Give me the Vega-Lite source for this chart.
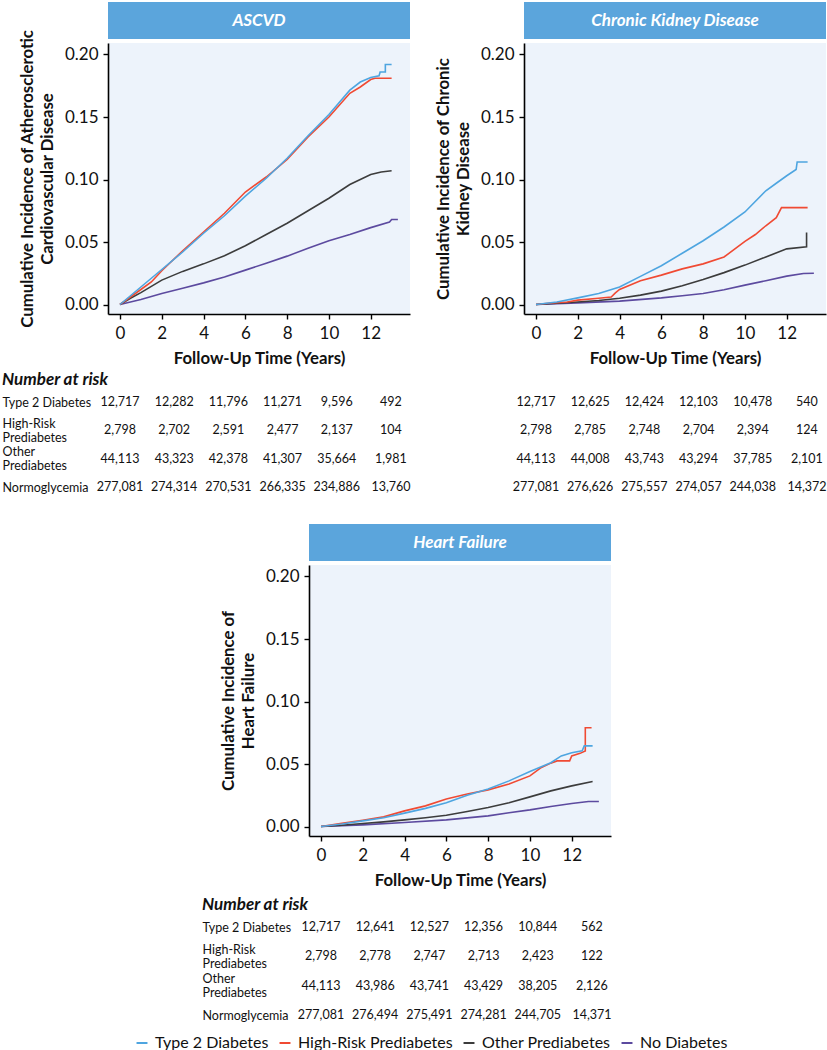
{
  "$schema": "https://vega.github.io/schema/vega-lite/v6.json",
  "background": "white",
  "padding": {"left": 2, "top": 2, "right": 0, "bottom": 0},
  "config": {
    "font": "Lato",
    "view": {"stroke": null},
    "axis": {"domainColor": "#000000", "domainWidth": 1.6, "tickColor": "#000000", "tickWidth": 1.4, "tickSize": 5, "labelFontSize": 17, "labelColor": "#111111", "labelPadding": 4, "titleFontSize": 16.8, "titleFontWeight": "bold", "titleColor": "#111111", "grid": false, "labelFont": "Lato", "titleFont": "Lato"},
    "text": {"font": "Lato"},
    "title": {"font": "Lato"}
  },
  "datasets": {
    "curves": [
      {"outcome":"ASCVD","group":"No Diabetes","year":0,"incidence":0},{"outcome":"ASCVD","group":"No Diabetes","year":1,"incidence":0.004},{"outcome":"ASCVD","group":"No Diabetes","year":2,"incidence":0.0088},{"outcome":"ASCVD","group":"No Diabetes","year":3,"incidence":0.013},{"outcome":"ASCVD","group":"No Diabetes","year":4,"incidence":0.0173},{"outcome":"ASCVD","group":"No Diabetes","year":5,"incidence":0.022},{"outcome":"ASCVD","group":"No Diabetes","year":6,"incidence":0.0275},{"outcome":"ASCVD","group":"No Diabetes","year":7,"incidence":0.033},{"outcome":"ASCVD","group":"No Diabetes","year":8,"incidence":0.0387},{"outcome":"ASCVD","group":"No Diabetes","year":9,"incidence":0.045},{"outcome":"ASCVD","group":"No Diabetes","year":10,"incidence":0.051},{"outcome":"ASCVD","group":"No Diabetes","year":11,"incidence":0.056},{"outcome":"ASCVD","group":"No Diabetes","year":12,"incidence":0.0615},{"outcome":"ASCVD","group":"No Diabetes","year":12.9,"incidence":0.066},{"outcome":"ASCVD","group":"No Diabetes","year":13,"incidence":0.068},{"outcome":"ASCVD","group":"No Diabetes","year":13.3,"incidence":0.068},
      {"outcome":"ASCVD","group":"Other Prediabetes","year":0,"incidence":0},{"outcome":"ASCVD","group":"Other Prediabetes","year":0.5,"incidence":0.005},{"outcome":"ASCVD","group":"Other Prediabetes","year":1,"incidence":0.0095},{"outcome":"ASCVD","group":"Other Prediabetes","year":2,"incidence":0.0195},{"outcome":"ASCVD","group":"Other Prediabetes","year":3,"incidence":0.0265},{"outcome":"ASCVD","group":"Other Prediabetes","year":4,"incidence":0.0325},{"outcome":"ASCVD","group":"Other Prediabetes","year":5,"incidence":0.039},{"outcome":"ASCVD","group":"Other Prediabetes","year":6,"incidence":0.047},{"outcome":"ASCVD","group":"Other Prediabetes","year":7,"incidence":0.056},{"outcome":"ASCVD","group":"Other Prediabetes","year":8,"incidence":0.065},{"outcome":"ASCVD","group":"Other Prediabetes","year":9,"incidence":0.075},{"outcome":"ASCVD","group":"Other Prediabetes","year":10,"incidence":0.085},{"outcome":"ASCVD","group":"Other Prediabetes","year":11,"incidence":0.096},{"outcome":"ASCVD","group":"Other Prediabetes","year":12,"incidence":0.104},{"outcome":"ASCVD","group":"Other Prediabetes","year":12.5,"incidence":0.106},{"outcome":"ASCVD","group":"Other Prediabetes","year":13,"incidence":0.107},
      {"outcome":"ASCVD","group":"High-Risk Prediabetes","year":0,"incidence":0},{"outcome":"ASCVD","group":"High-Risk Prediabetes","year":0.5,"incidence":0.006},{"outcome":"ASCVD","group":"High-Risk Prediabetes","year":1,"incidence":0.012},{"outcome":"ASCVD","group":"High-Risk Prediabetes","year":1.5,"incidence":0.018},{"outcome":"ASCVD","group":"High-Risk Prediabetes","year":2,"incidence":0.027},{"outcome":"ASCVD","group":"High-Risk Prediabetes","year":3,"incidence":0.043},{"outcome":"ASCVD","group":"High-Risk Prediabetes","year":4,"incidence":0.058},{"outcome":"ASCVD","group":"High-Risk Prediabetes","year":5,"incidence":0.073},{"outcome":"ASCVD","group":"High-Risk Prediabetes","year":6,"incidence":0.09},{"outcome":"ASCVD","group":"High-Risk Prediabetes","year":7,"incidence":0.102},{"outcome":"ASCVD","group":"High-Risk Prediabetes","year":8,"incidence":0.116},{"outcome":"ASCVD","group":"High-Risk Prediabetes","year":9,"incidence":0.134},{"outcome":"ASCVD","group":"High-Risk Prediabetes","year":10,"incidence":0.15},{"outcome":"ASCVD","group":"High-Risk Prediabetes","year":11,"incidence":0.169},{"outcome":"ASCVD","group":"High-Risk Prediabetes","year":11.5,"incidence":0.174},{"outcome":"ASCVD","group":"High-Risk Prediabetes","year":12,"incidence":0.18},{"outcome":"ASCVD","group":"High-Risk Prediabetes","year":12.2,"incidence":0.181},{"outcome":"ASCVD","group":"High-Risk Prediabetes","year":13,"incidence":0.181},
      {"outcome":"ASCVD","group":"Type 2 Diabetes","year":0,"incidence":0},{"outcome":"ASCVD","group":"Type 2 Diabetes","year":0.5,"incidence":0.007},{"outcome":"ASCVD","group":"Type 2 Diabetes","year":1,"incidence":0.014},{"outcome":"ASCVD","group":"Type 2 Diabetes","year":2,"incidence":0.028},{"outcome":"ASCVD","group":"Type 2 Diabetes","year":3,"incidence":0.042},{"outcome":"ASCVD","group":"Type 2 Diabetes","year":4,"incidence":0.057},{"outcome":"ASCVD","group":"Type 2 Diabetes","year":5,"incidence":0.071},{"outcome":"ASCVD","group":"Type 2 Diabetes","year":6,"incidence":0.0867},{"outcome":"ASCVD","group":"Type 2 Diabetes","year":7,"incidence":0.101},{"outcome":"ASCVD","group":"Type 2 Diabetes","year":8,"incidence":0.117},{"outcome":"ASCVD","group":"Type 2 Diabetes","year":9,"incidence":0.135},{"outcome":"ASCVD","group":"Type 2 Diabetes","year":10,"incidence":0.152},{"outcome":"ASCVD","group":"Type 2 Diabetes","year":11,"incidence":0.1715},{"outcome":"ASCVD","group":"Type 2 Diabetes","year":11.5,"incidence":0.178},{"outcome":"ASCVD","group":"Type 2 Diabetes","year":12,"incidence":0.1816},{"outcome":"ASCVD","group":"Type 2 Diabetes","year":12.4,"incidence":0.183},{"outcome":"ASCVD","group":"Type 2 Diabetes","year":12.45,"incidence":0.186},{"outcome":"ASCVD","group":"Type 2 Diabetes","year":12.7,"incidence":0.186},{"outcome":"ASCVD","group":"Type 2 Diabetes","year":12.7,"incidence":0.192},{"outcome":"ASCVD","group":"Type 2 Diabetes","year":13,"incidence":0.192},
      {"outcome":"CKD","group":"No Diabetes","year":0,"incidence":0},{"outcome":"CKD","group":"No Diabetes","year":2,"incidence":0.0013},{"outcome":"CKD","group":"No Diabetes","year":4,"incidence":0.0027},{"outcome":"CKD","group":"No Diabetes","year":6,"incidence":0.0053},{"outcome":"CKD","group":"No Diabetes","year":7,"incidence":0.007},{"outcome":"CKD","group":"No Diabetes","year":8,"incidence":0.0088},{"outcome":"CKD","group":"No Diabetes","year":9,"incidence":0.0118},{"outcome":"CKD","group":"No Diabetes","year":10,"incidence":0.0155},{"outcome":"CKD","group":"No Diabetes","year":11,"incidence":0.019},{"outcome":"CKD","group":"No Diabetes","year":12,"incidence":0.0227},{"outcome":"CKD","group":"No Diabetes","year":12.8,"incidence":0.0248},{"outcome":"CKD","group":"No Diabetes","year":13.3,"incidence":0.025},
      {"outcome":"CKD","group":"Other Prediabetes","year":0,"incidence":0},{"outcome":"CKD","group":"Other Prediabetes","year":1,"incidence":0.001},{"outcome":"CKD","group":"Other Prediabetes","year":2,"incidence":0.002},{"outcome":"CKD","group":"Other Prediabetes","year":3,"incidence":0.0032},{"outcome":"CKD","group":"Other Prediabetes","year":4,"incidence":0.005},{"outcome":"CKD","group":"Other Prediabetes","year":5,"incidence":0.0075},{"outcome":"CKD","group":"Other Prediabetes","year":6,"incidence":0.0107},{"outcome":"CKD","group":"Other Prediabetes","year":7,"incidence":0.015},{"outcome":"CKD","group":"Other Prediabetes","year":8,"incidence":0.02},{"outcome":"CKD","group":"Other Prediabetes","year":9,"incidence":0.0255},{"outcome":"CKD","group":"Other Prediabetes","year":10,"incidence":0.0315},{"outcome":"CKD","group":"Other Prediabetes","year":11,"incidence":0.038},{"outcome":"CKD","group":"Other Prediabetes","year":12,"incidence":0.0445},{"outcome":"CKD","group":"Other Prediabetes","year":12.95,"incidence":0.0462},{"outcome":"CKD","group":"Other Prediabetes","year":12.95,"incidence":0.0576},
      {"outcome":"CKD","group":"High-Risk Prediabetes","year":0,"incidence":0},{"outcome":"CKD","group":"High-Risk Prediabetes","year":0.6,"incidence":0.001},{"outcome":"CKD","group":"High-Risk Prediabetes","year":1.5,"incidence":0.002},{"outcome":"CKD","group":"High-Risk Prediabetes","year":2,"incidence":0.0035},{"outcome":"CKD","group":"High-Risk Prediabetes","year":3,"incidence":0.005},{"outcome":"CKD","group":"High-Risk Prediabetes","year":3.6,"incidence":0.006},{"outcome":"CKD","group":"High-Risk Prediabetes","year":3.8,"incidence":0.0093},{"outcome":"CKD","group":"High-Risk Prediabetes","year":4,"incidence":0.012},{"outcome":"CKD","group":"High-Risk Prediabetes","year":5,"incidence":0.019},{"outcome":"CKD","group":"High-Risk Prediabetes","year":6,"incidence":0.0235},{"outcome":"CKD","group":"High-Risk Prediabetes","year":7,"incidence":0.0285},{"outcome":"CKD","group":"High-Risk Prediabetes","year":8,"incidence":0.0325},{"outcome":"CKD","group":"High-Risk Prediabetes","year":9,"incidence":0.038},{"outcome":"CKD","group":"High-Risk Prediabetes","year":10,"incidence":0.0505},{"outcome":"CKD","group":"High-Risk Prediabetes","year":10.5,"incidence":0.056},{"outcome":"CKD","group":"High-Risk Prediabetes","year":11,"incidence":0.063},{"outcome":"CKD","group":"High-Risk Prediabetes","year":11.5,"incidence":0.0695},{"outcome":"CKD","group":"High-Risk Prediabetes","year":11.75,"incidence":0.0775},{"outcome":"CKD","group":"High-Risk Prediabetes","year":13,"incidence":0.0775},
      {"outcome":"CKD","group":"Type 2 Diabetes","year":0,"incidence":0},{"outcome":"CKD","group":"Type 2 Diabetes","year":1,"incidence":0.002},{"outcome":"CKD","group":"Type 2 Diabetes","year":2,"incidence":0.0053},{"outcome":"CKD","group":"Type 2 Diabetes","year":3,"incidence":0.0088},{"outcome":"CKD","group":"Type 2 Diabetes","year":4,"incidence":0.014},{"outcome":"CKD","group":"Type 2 Diabetes","year":5,"incidence":0.0225},{"outcome":"CKD","group":"Type 2 Diabetes","year":6,"incidence":0.031},{"outcome":"CKD","group":"Type 2 Diabetes","year":7,"incidence":0.041},{"outcome":"CKD","group":"Type 2 Diabetes","year":8,"incidence":0.051},{"outcome":"CKD","group":"Type 2 Diabetes","year":9,"incidence":0.062},{"outcome":"CKD","group":"Type 2 Diabetes","year":10,"incidence":0.074},{"outcome":"CKD","group":"Type 2 Diabetes","year":11,"incidence":0.091},{"outcome":"CKD","group":"Type 2 Diabetes","year":11.5,"incidence":0.097},{"outcome":"CKD","group":"Type 2 Diabetes","year":12,"incidence":0.103},{"outcome":"CKD","group":"Type 2 Diabetes","year":12.45,"incidence":0.108},{"outcome":"CKD","group":"Type 2 Diabetes","year":12.5,"incidence":0.114},{"outcome":"CKD","group":"Type 2 Diabetes","year":13,"incidence":0.114},
      {"outcome":"HF","group":"No Diabetes","year":0,"incidence":0},{"outcome":"HF","group":"No Diabetes","year":2,"incidence":0.0013},{"outcome":"HF","group":"No Diabetes","year":4,"incidence":0.0032},{"outcome":"HF","group":"No Diabetes","year":6,"incidence":0.0053},{"outcome":"HF","group":"No Diabetes","year":8,"incidence":0.0085},{"outcome":"HF","group":"No Diabetes","year":9,"incidence":0.011},{"outcome":"HF","group":"No Diabetes","year":10,"incidence":0.0133},{"outcome":"HF","group":"No Diabetes","year":11,"incidence":0.016},{"outcome":"HF","group":"No Diabetes","year":12,"incidence":0.0184},{"outcome":"HF","group":"No Diabetes","year":12.8,"incidence":0.02},{"outcome":"HF","group":"No Diabetes","year":13.3,"incidence":0.02},
      {"outcome":"HF","group":"Other Prediabetes","year":0,"incidence":0},{"outcome":"HF","group":"Other Prediabetes","year":1,"incidence":0.001},{"outcome":"HF","group":"Other Prediabetes","year":2,"incidence":0.0024},{"outcome":"HF","group":"Other Prediabetes","year":3,"incidence":0.0037},{"outcome":"HF","group":"Other Prediabetes","year":4,"incidence":0.0053},{"outcome":"HF","group":"Other Prediabetes","year":5,"incidence":0.007},{"outcome":"HF","group":"Other Prediabetes","year":6,"incidence":0.009},{"outcome":"HF","group":"Other Prediabetes","year":7,"incidence":0.012},{"outcome":"HF","group":"Other Prediabetes","year":8,"incidence":0.0152},{"outcome":"HF","group":"Other Prediabetes","year":9,"incidence":0.019},{"outcome":"HF","group":"Other Prediabetes","year":10,"incidence":0.0237},{"outcome":"HF","group":"Other Prediabetes","year":11,"incidence":0.0285},{"outcome":"HF","group":"Other Prediabetes","year":12,"incidence":0.0325},{"outcome":"HF","group":"Other Prediabetes","year":13,"incidence":0.036},
      {"outcome":"HF","group":"High-Risk Prediabetes","year":0,"incidence":0},{"outcome":"HF","group":"High-Risk Prediabetes","year":1,"incidence":0.0025},{"outcome":"HF","group":"High-Risk Prediabetes","year":2,"incidence":0.005},{"outcome":"HF","group":"High-Risk Prediabetes","year":3,"incidence":0.0077},{"outcome":"HF","group":"High-Risk Prediabetes","year":4,"incidence":0.0125},{"outcome":"HF","group":"High-Risk Prediabetes","year":5,"incidence":0.0165},{"outcome":"HF","group":"High-Risk Prediabetes","year":6,"incidence":0.022},{"outcome":"HF","group":"High-Risk Prediabetes","year":7,"incidence":0.026},{"outcome":"HF","group":"High-Risk Prediabetes","year":8,"incidence":0.0293},{"outcome":"HF","group":"High-Risk Prediabetes","year":9,"incidence":0.034},{"outcome":"HF","group":"High-Risk Prediabetes","year":10,"incidence":0.0405},{"outcome":"HF","group":"High-Risk Prediabetes","year":10.5,"incidence":0.0467},{"outcome":"HF","group":"High-Risk Prediabetes","year":11,"incidence":0.0507},{"outcome":"HF","group":"High-Risk Prediabetes","year":11.3,"incidence":0.0525},{"outcome":"HF","group":"High-Risk Prediabetes","year":11.9,"incidence":0.0525},{"outcome":"HF","group":"High-Risk Prediabetes","year":12,"incidence":0.0565},{"outcome":"HF","group":"High-Risk Prediabetes","year":12.4,"incidence":0.0585},{"outcome":"HF","group":"High-Risk Prediabetes","year":12.65,"incidence":0.0605},{"outcome":"HF","group":"High-Risk Prediabetes","year":12.65,"incidence":0.079},{"outcome":"HF","group":"High-Risk Prediabetes","year":12.95,"incidence":0.079},
      {"outcome":"HF","group":"Type 2 Diabetes","year":0,"incidence":0},{"outcome":"HF","group":"Type 2 Diabetes","year":1,"incidence":0.002},{"outcome":"HF","group":"Type 2 Diabetes","year":2,"incidence":0.0045},{"outcome":"HF","group":"Type 2 Diabetes","year":3,"incidence":0.007},{"outcome":"HF","group":"Type 2 Diabetes","year":4,"incidence":0.0107},{"outcome":"HF","group":"Type 2 Diabetes","year":5,"incidence":0.0145},{"outcome":"HF","group":"Type 2 Diabetes","year":6,"incidence":0.019},{"outcome":"HF","group":"Type 2 Diabetes","year":7,"incidence":0.025},{"outcome":"HF","group":"Type 2 Diabetes","year":8,"incidence":0.03},{"outcome":"HF","group":"Type 2 Diabetes","year":9,"incidence":0.0365},{"outcome":"HF","group":"Type 2 Diabetes","year":10,"incidence":0.044},{"outcome":"HF","group":"Type 2 Diabetes","year":11,"incidence":0.051},{"outcome":"HF","group":"Type 2 Diabetes","year":11.5,"incidence":0.0565},{"outcome":"HF","group":"Type 2 Diabetes","year":12,"incidence":0.059},{"outcome":"HF","group":"Type 2 Diabetes","year":12.5,"incidence":0.0605},{"outcome":"HF","group":"Type 2 Diabetes","year":12.6,"incidence":0.0645},{"outcome":"HF","group":"Type 2 Diabetes","year":13,"incidence":0.0645}
    ],
    "risk": [
      {"outcome":"ASCVD","group":"Type 2 Diabetes","col":0,"n":12717},{"outcome":"ASCVD","group":"Type 2 Diabetes","col":1,"n":12282},{"outcome":"ASCVD","group":"Type 2 Diabetes","col":2,"n":11796},{"outcome":"ASCVD","group":"Type 2 Diabetes","col":3,"n":11271},{"outcome":"ASCVD","group":"Type 2 Diabetes","col":4,"n":9596},{"outcome":"ASCVD","group":"Type 2 Diabetes","col":5,"n":492},
      {"outcome":"ASCVD","group":"High-Risk Prediabetes","col":0,"n":2798},{"outcome":"ASCVD","group":"High-Risk Prediabetes","col":1,"n":2702},{"outcome":"ASCVD","group":"High-Risk Prediabetes","col":2,"n":2591},{"outcome":"ASCVD","group":"High-Risk Prediabetes","col":3,"n":2477},{"outcome":"ASCVD","group":"High-Risk Prediabetes","col":4,"n":2137},{"outcome":"ASCVD","group":"High-Risk Prediabetes","col":5,"n":104},
      {"outcome":"ASCVD","group":"Other Prediabetes","col":0,"n":44113},{"outcome":"ASCVD","group":"Other Prediabetes","col":1,"n":43323},{"outcome":"ASCVD","group":"Other Prediabetes","col":2,"n":42378},{"outcome":"ASCVD","group":"Other Prediabetes","col":3,"n":41307},{"outcome":"ASCVD","group":"Other Prediabetes","col":4,"n":35664},{"outcome":"ASCVD","group":"Other Prediabetes","col":5,"n":1981},
      {"outcome":"ASCVD","group":"Normoglycemia","col":0,"n":277081},{"outcome":"ASCVD","group":"Normoglycemia","col":1,"n":274314},{"outcome":"ASCVD","group":"Normoglycemia","col":2,"n":270531},{"outcome":"ASCVD","group":"Normoglycemia","col":3,"n":266335},{"outcome":"ASCVD","group":"Normoglycemia","col":4,"n":234886},{"outcome":"ASCVD","group":"Normoglycemia","col":5,"n":13760},
      {"outcome":"CKD","group":"Type 2 Diabetes","col":0,"n":12717},{"outcome":"CKD","group":"Type 2 Diabetes","col":1,"n":12625},{"outcome":"CKD","group":"Type 2 Diabetes","col":2,"n":12424},{"outcome":"CKD","group":"Type 2 Diabetes","col":3,"n":12103},{"outcome":"CKD","group":"Type 2 Diabetes","col":4,"n":10478},{"outcome":"CKD","group":"Type 2 Diabetes","col":5,"n":540},
      {"outcome":"CKD","group":"High-Risk Prediabetes","col":0,"n":2798},{"outcome":"CKD","group":"High-Risk Prediabetes","col":1,"n":2785},{"outcome":"CKD","group":"High-Risk Prediabetes","col":2,"n":2748},{"outcome":"CKD","group":"High-Risk Prediabetes","col":3,"n":2704},{"outcome":"CKD","group":"High-Risk Prediabetes","col":4,"n":2394},{"outcome":"CKD","group":"High-Risk Prediabetes","col":5,"n":124},
      {"outcome":"CKD","group":"Other Prediabetes","col":0,"n":44113},{"outcome":"CKD","group":"Other Prediabetes","col":1,"n":44008},{"outcome":"CKD","group":"Other Prediabetes","col":2,"n":43743},{"outcome":"CKD","group":"Other Prediabetes","col":3,"n":43294},{"outcome":"CKD","group":"Other Prediabetes","col":4,"n":37785},{"outcome":"CKD","group":"Other Prediabetes","col":5,"n":2101},
      {"outcome":"CKD","group":"Normoglycemia","col":0,"n":277081},{"outcome":"CKD","group":"Normoglycemia","col":1,"n":276626},{"outcome":"CKD","group":"Normoglycemia","col":2,"n":275557},{"outcome":"CKD","group":"Normoglycemia","col":3,"n":274057},{"outcome":"CKD","group":"Normoglycemia","col":4,"n":244038},{"outcome":"CKD","group":"Normoglycemia","col":5,"n":14372},
      {"outcome":"HF","group":"Type 2 Diabetes","col":0,"n":12717},{"outcome":"HF","group":"Type 2 Diabetes","col":1,"n":12641},{"outcome":"HF","group":"Type 2 Diabetes","col":2,"n":12527},{"outcome":"HF","group":"Type 2 Diabetes","col":3,"n":12356},{"outcome":"HF","group":"Type 2 Diabetes","col":4,"n":10844},{"outcome":"HF","group":"Type 2 Diabetes","col":5,"n":562},
      {"outcome":"HF","group":"High-Risk Prediabetes","col":0,"n":2798},{"outcome":"HF","group":"High-Risk Prediabetes","col":1,"n":2778},{"outcome":"HF","group":"High-Risk Prediabetes","col":2,"n":2747},{"outcome":"HF","group":"High-Risk Prediabetes","col":3,"n":2713},{"outcome":"HF","group":"High-Risk Prediabetes","col":4,"n":2423},{"outcome":"HF","group":"High-Risk Prediabetes","col":5,"n":122},
      {"outcome":"HF","group":"Other Prediabetes","col":0,"n":44113},{"outcome":"HF","group":"Other Prediabetes","col":1,"n":43986},{"outcome":"HF","group":"Other Prediabetes","col":2,"n":43741},{"outcome":"HF","group":"Other Prediabetes","col":3,"n":43429},{"outcome":"HF","group":"Other Prediabetes","col":4,"n":38205},{"outcome":"HF","group":"Other Prediabetes","col":5,"n":2126},
      {"outcome":"HF","group":"Normoglycemia","col":0,"n":277081},{"outcome":"HF","group":"Normoglycemia","col":1,"n":276494},{"outcome":"HF","group":"Normoglycemia","col":2,"n":275491},{"outcome":"HF","group":"Normoglycemia","col":3,"n":274281},{"outcome":"HF","group":"Normoglycemia","col":4,"n":244705},{"outcome":"HF","group":"Normoglycemia","col":5,"n":14371}
    ]
  },
  "columns": 1,
  "align": "each",
  "spacing": 30,
  "concat": [
    {
      "columns": 2,
      "align": "each",
      "spacing": {"row": 4, "column": 24},
      "concat": [
        {
          "width": 302, "height": 271,
          "view": {"fill": "#edf3fb", "stroke": null},
          "encoding": {
            "x": {"type": "quantitative", "scale": {"domain": [-0.574, 13.88], "nice": false, "zero": false}, "axis": {"values": [0, 2, 4, 6, 8, 10, 12], "format": "d", "title": "Follow-Up Time (Years)", "labelPadding": 6, "titlePadding": 9}},
            "y": {"type": "quantitative", "scale": {"domain": [-0.0076, 0.2092], "nice": false, "zero": false}, "axis": {"values": [0, 0.05, 0.1, 0.15, 0.2], "format": ".2f", "title": ["Cumulative Incidence of Atherosclerotic", "Cardiovascular Disease"], "titleLineHeight": 20, "titlePadding": 8, "labelPadding": 5}}
          },
          "layer": [
            {"data": {"name": "curves"}, "transform": [{"filter": "datum.outcome === 'ASCVD'"}],
             "mark": {"type": "line", "strokeWidth": 1.6},
             "encoding": {
               "x": {"field": "year"},
               "y": {"field": "incidence"},
               "color": {"field": "group", "type": "nominal", "scale": {"domain": ["Type 2 Diabetes", "High-Risk Prediabetes", "Other Prediabetes", "No Diabetes"], "range": ["#4ea5e0", "#f04a33", "#3c3c3c", "#5c4a9f"]},
                 "legend": {"title": null, "orient": "none", "direction": "horizontal", "legendX": 26, "legendY": 992, "symbolType": "stroke", "symbolStrokeWidth": 2, "symbolSize": 120, "labelFontSize": 16, "labelColor": "#111111", "labelFont": "Lato", "columnPadding": 6, "labelOffset": 5}}
             }},
            {"data": {"values": [{}]}, "mark": {"type": "rect", "color": "#5ba5dc"},
             "encoding": {"x": {"datum": -0.574}, "x2": {"datum": 13.88}, "y": {"datum": 0.2124}, "y2": {"datum": 0.242}}},
            {"data": {"values": [{}]}, "mark": {"type": "text", "color": "white", "fontSize": 17, "fontWeight": "bold", "fontStyle": "italic"},
             "encoding": {"x": {"datum": 6.653}, "y": {"datum": 0.2272}, "text": {"value": "ASCVD"}}}
          ]
        },
        {
          "width": 302, "height": 271,
          "view": {"fill": "#edf3fb", "stroke": null},
          "encoding": {
            "x": {"type": "quantitative", "scale": {"domain": [-0.574, 13.88], "nice": false, "zero": false}, "axis": {"values": [0, 2, 4, 6, 8, 10, 12], "format": "d", "title": "Follow-Up Time (Years)", "labelPadding": 6, "titlePadding": 9}},
            "y": {"type": "quantitative", "scale": {"domain": [-0.0076, 0.2092], "nice": false, "zero": false}, "axis": {"values": [0, 0.05, 0.1, 0.15, 0.2], "format": ".2f", "title": ["Cumulative Incidence of Chronic", "Kidney Disease"], "titleLineHeight": 20, "titlePadding": 8, "labelPadding": 5}}
          },
          "layer": [
            {"data": {"name": "curves"}, "transform": [{"filter": "datum.outcome === 'CKD'"}],
             "mark": {"type": "line", "strokeWidth": 1.6},
             "encoding": {
               "x": {"field": "year"},
               "y": {"field": "incidence"},
               "color": {"field": "group", "type": "nominal", "scale": {"domain": ["Type 2 Diabetes", "High-Risk Prediabetes", "Other Prediabetes", "No Diabetes"], "range": ["#4ea5e0", "#f04a33", "#3c3c3c", "#5c4a9f"]},
                 "legend": {"title": null, "orient": "none", "direction": "horizontal", "legendX": 26, "legendY": 992, "symbolType": "stroke", "symbolStrokeWidth": 2, "symbolSize": 120, "labelFontSize": 16, "labelColor": "#111111", "labelFont": "Lato", "columnPadding": 6, "labelOffset": 5}}
             }},
            {"data": {"values": [{}]}, "mark": {"type": "rect", "color": "#5ba5dc"},
             "encoding": {"x": {"datum": -0.574}, "x2": {"datum": 13.88}, "y": {"datum": 0.2124}, "y2": {"datum": 0.242}}},
            {"data": {"values": [{}]}, "mark": {"type": "text", "color": "white", "fontSize": 17, "fontWeight": "bold", "fontStyle": "italic"},
             "encoding": {"x": {"datum": 6.653}, "y": {"datum": 0.2272}, "text": {"value": "Chronic Kidney Disease"}}}
          ]
        },
        {
          "width": 302, "height": 85,
          "data": {"name": "risk"},
          "transform": [{"filter": "datum.outcome === 'ASCVD'"}],
          "title": {"text": "Number at risk", "anchor": "start", "frame": "bounds", "fontSize": 17, "fontWeight": "bold", "fontStyle": "italic", "offset": 7, "color": "#111111"},
          "mark": {"type": "text", "fontSize": 12.5, "color": "#111111"},
          "encoding": {
            "x": {"field": "col", "type": "quantitative", "scale": {"domain": [-0.222, 5.352], "nice": false, "zero": false}, "axis": null},
            "y": {"field": "group", "type": "nominal", "sort": ["Type 2 Diabetes", "High-Risk Prediabetes", "Other Prediabetes", "Normoglycemia"], "scale": {"type": "point", "padding": 0},
                  "axis": {"title": null, "domain": false, "ticks": false, "labelAlign": "left", "labelPadding": 106, "labelFontSize": 12.5, "labelLineHeight": 14, "labelOverlap": false, "labelBound": false,
                           "labelOffset": {"condition": {"test": "indexof(datum.value, 'Prediabetes') > 0", "value": -7}, "value": 0},
                           "labelExpr": "indexof(datum.label, 'Prediabetes') > 0 ? split(datum.label, ' ') : datum.label"}},
            "text": {"field": "n", "type": "quantitative", "format": ","}
          }
        },
        {
          "width": 302, "height": 85,
          "data": {"name": "risk"},
          "transform": [{"filter": "datum.outcome === 'CKD'"}],
          "mark": {"type": "text", "fontSize": 12.5, "color": "#111111"},
          "encoding": {
            "x": {"field": "col", "type": "quantitative", "scale": {"domain": [-0.222, 5.352], "nice": false, "zero": false}, "axis": null},
            "y": {"field": "group", "type": "nominal", "sort": ["Type 2 Diabetes", "High-Risk Prediabetes", "Other Prediabetes", "Normoglycemia"], "scale": {"type": "point", "padding": 0}, "axis": null},
            "text": {"field": "n", "type": "quantitative", "format": ","}
          }
        }
      ]
    },
    {
      "columns": 2,
      "align": "each",
      "spacing": 0,
      "concat": [
        {"width": 94, "height": 10, "data": {"values": [{}]}, "mark": {"type": "text", "text": " "}, "encoding": {}},
        {
          "columns": 1,
          "align": "each",
          "spacing": 7,
          "concat": [
            {
              "width": 302, "height": 271,
              "view": {"fill": "#edf3fb", "stroke": null},
              "encoding": {
                "x": {"type": "quantitative", "scale": {"domain": [-0.574, 13.88], "nice": false, "zero": false}, "axis": {"values": [0, 2, 4, 6, 8, 10, 12], "format": "d", "title": "Follow-Up Time (Years)", "labelPadding": 6, "titlePadding": 9}},
                "y": {"type": "quantitative", "scale": {"domain": [-0.0076, 0.2092], "nice": false, "zero": false}, "axis": {"values": [0, 0.05, 0.1, 0.15, 0.2], "format": ".2f", "title": ["Cumulative Incidence of", "Heart Failure"], "titleLineHeight": 20, "titlePadding": 8, "labelPadding": 5}}
              },
              "layer": [
                {"data": {"name": "curves"}, "transform": [{"filter": "datum.outcome === 'HF'"}],
                 "mark": {"type": "line", "strokeWidth": 1.6},
                 "encoding": {
                   "x": {"field": "year"},
                   "y": {"field": "incidence"},
                   "color": {"field": "group", "type": "nominal", "scale": {"domain": ["Type 2 Diabetes", "High-Risk Prediabetes", "Other Prediabetes", "No Diabetes"], "range": ["#4ea5e0", "#f04a33", "#3c3c3c", "#5c4a9f"]},
                     "legend": {"title": null, "orient": "none", "direction": "horizontal", "legendX": 26, "legendY": 992, "symbolType": "stroke", "symbolStrokeWidth": 2, "symbolSize": 120, "labelFontSize": 16, "labelColor": "#111111", "labelFont": "Lato", "columnPadding": 6, "labelOffset": 5}}
                 }},
                {"data": {"values": [{}]}, "mark": {"type": "rect", "color": "#5ba5dc"},
                 "encoding": {"x": {"datum": -0.574}, "x2": {"datum": 13.88}, "y": {"datum": 0.2124}, "y2": {"datum": 0.242}}},
                {"data": {"values": [{}]}, "mark": {"type": "text", "color": "white", "fontSize": 17, "fontWeight": "bold", "fontStyle": "italic"},
                 "encoding": {"x": {"datum": 6.653}, "y": {"datum": 0.2272}, "text": {"value": "Heart Failure"}}}
              ]
            },
            {
              "width": 302, "height": 88,
              "data": {"name": "risk"},
              "transform": [{"filter": "datum.outcome === 'HF'"}],
              "title": {"text": "Number at risk", "anchor": "start", "frame": "bounds", "fontSize": 17, "fontWeight": "bold", "fontStyle": "italic", "offset": 7, "color": "#111111"},
              "mark": {"type": "text", "fontSize": 12.5, "color": "#111111"},
              "encoding": {
                "x": {"field": "col", "type": "quantitative", "scale": {"domain": [-0.222, 5.352], "nice": false, "zero": false}, "axis": null},
                "y": {"field": "group", "type": "nominal", "sort": ["Type 2 Diabetes", "High-Risk Prediabetes", "Other Prediabetes", "Normoglycemia"], "scale": {"type": "point", "padding": 0},
                      "axis": {"title": null, "domain": false, "ticks": false, "labelAlign": "left", "labelPadding": 107, "labelFontSize": 12.5, "labelLineHeight": 14, "labelOverlap": false, "labelBound": false,
                               "labelOffset": {"condition": {"test": "indexof(datum.value, 'Prediabetes') > 0", "value": -7}, "value": 0},
                               "labelExpr": "indexof(datum.label, 'Prediabetes') > 0 ? split(datum.label, ' ') : datum.label"}},
                "text": {"field": "n", "type": "quantitative", "format": ","}
              }
            }
          ]
        }
      ]
    }
  ]
}
